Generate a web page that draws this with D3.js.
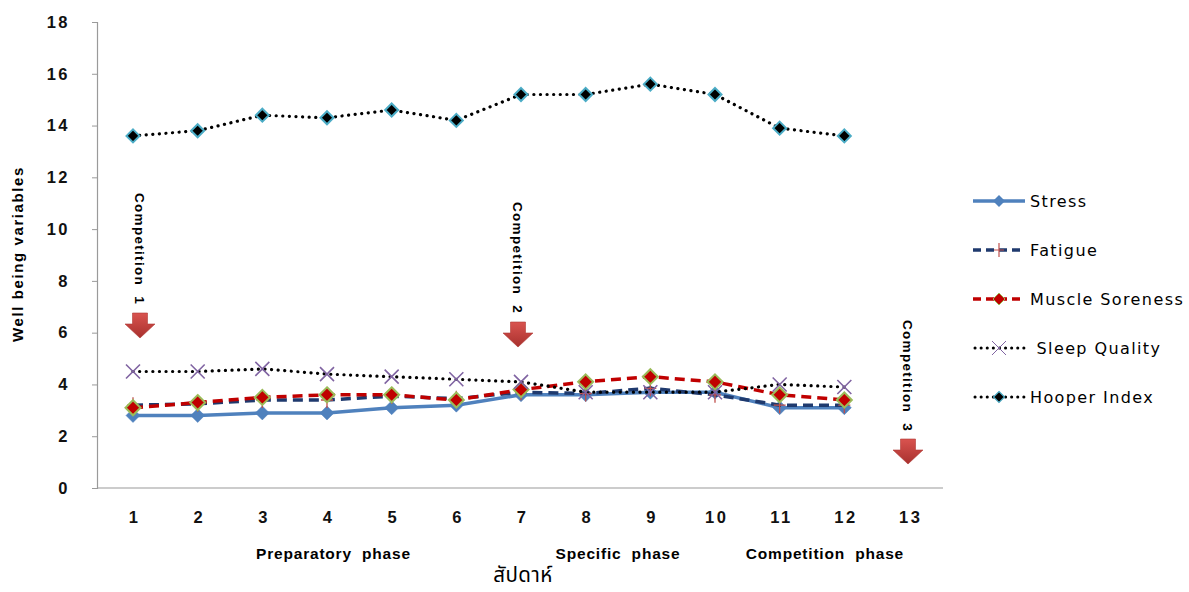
<!DOCTYPE html>
<html><head><meta charset="utf-8">
<script src="https://cdnjs.cloudflare.com/ajax/libs/d3/7.8.5/d3.min.js"></script>
<style>body{margin:0;background:#fff}svg{display:block}</style>
</head><body><svg id="c" width="1189" height="592"></svg>
<script>
const weeks = [1,2,3,4,5,6,7,8,9,10,11,12,13];
const yTicks = [0,2,4,6,8,10,12,14,16,18];
const stress = [2.8,2.8,2.9,2.9,3.1,3.2,3.6,3.6,3.7,3.7,3.1,3.1];
const fatigue = [3.2,3.25,3.4,3.4,3.55,3.45,3.7,3.65,3.85,3.6,3.2,3.2];
const soreness = [3.1,3.3,3.5,3.6,3.6,3.4,3.8,4.1,4.3,4.1,3.6,3.4];
const sleep = [4.5,4.5,4.6,4.4,4.3,4.2,4.1,3.7,3.7,3.7,4.0,3.9];
const hooper = [13.6,13.8,14.4,14.3,14.6,14.2,15.2,15.2,15.6,15.2,13.9,13.6];
const seriesNames = ["Stress","Fatigue","Muscle Soreness"," Sleep Quality","Hooper Index"];
const phases = [{label:"Preparatory  phase", week:4.1},{label:"Specific  phase", week:8.5},{label:"Competition  phase", week:11.7}];
const competitions = [{label:"Competition  1", week:1},{label:"Competition  2", week:7},{label:"Competition  3", week:13}];

const svg = d3.select("#c");
const x = d3.scalePoint().domain(weeks).range([133,909]);
const y = d3.scaleLinear().domain([0,18]).range([488,22]);
const axisColor = "#9a9a9a";

// axes
svg.append("line").attr("x1",97).attr("x2",943).attr("y1",y(0)).attr("y2",y(0)).attr("stroke",axisColor).attr("stroke-width",1.2);
const yAxis = svg.append("g").attr("transform","translate(97,0)")
  .call(d3.axisLeft(y).tickValues(yTicks).tickSize(5).tickPadding(22).tickFormat(d3.format("d")));
yAxis.select(".domain").attr("stroke",axisColor).attr("stroke-width",1.2);
yAxis.selectAll(".tick line").attr("stroke",axisColor);
yAxis.selectAll("text").attr("font-family","Liberation Sans").attr("font-weight","bold").attr("font-size",16.5).attr("letter-spacing","2.5px").attr("fill","#111");

const xAxis = svg.append("g").attr("transform",`translate(0,${y(0)})`)
  .call(d3.axisBottom(x).tickSize(0).tickPadding(23));
xAxis.select(".domain").remove();
xAxis.selectAll("text").attr("font-family","Liberation Sans").attr("font-weight","bold").attr("font-size",16.5).attr("letter-spacing","2.5px").attr("dx","1.2").attr("fill","#111");

// axis titles
svg.append("text").attr("transform","translate(23,254) rotate(-90)").attr("text-anchor","middle")
  .attr("font-family","Liberation Sans").attr("font-weight","bold").attr("font-size",15).attr("letter-spacing","1.6px").text("Well being variables");
const xs = d3.scaleLinear().domain([1,13]).range([x(1),x(13)]);
phases.forEach(p=>{
  svg.append("text").attr("x",xs(p.week)).attr("y",559).attr("text-anchor","middle")
    .attr("font-family","Liberation Sans").attr("font-weight","bold").attr("font-size",15.5).attr("letter-spacing","0.8px")
    .style("white-space","pre").text(p.label);
});
svg.append("text").attr("x",523).attr("y",582).attr("text-anchor","middle")
  .attr("font-family","'Noto Sans Thai','Noto Sans','DejaVu Sans',sans-serif").attr("font-size",20.5).attr("letter-spacing","0.5px").text("สัปดาห์");

// line helpers
const line = d3.line().x((d,i)=>x(weeks[i])).y(d=>y(d));
function diamond(g, data, size, fill, stroke, sw){
  g.selectAll(null).data(data).enter().append("path")
    .attr("d",`M0,${-size}L${size},0L0,${size}L${-size},0Z`)
    .attr("transform",(d,i)=>`translate(${x(weeks[i])},${y(d)})`)
    .attr("fill",fill).attr("stroke",stroke).attr("stroke-width",sw);
}
const dotted = {"stroke-dasharray":"0.1 6.5","stroke-linecap":"round","stroke-width":3.2};

// Stress
let g = svg.append("g");
g.append("path").datum(stress).attr("d",line).attr("fill","none").attr("stroke","#4F81BD").attr("stroke-width",3.5);
diamond(g, stress, 7, "#4F81BD", "#4F81BD", 0.5);
// Fatigue
g = svg.append("g");
g.append("path").datum(fatigue).attr("d",line).attr("fill","none").attr("stroke","#1F3A6E").attr("stroke-width",3.5).attr("stroke-dasharray","10 6");
g.selectAll(null).data(fatigue).enter().append("path")
  .attr("d","M-6,0H6M0,-8V8").attr("transform",(d,i)=>`translate(${x(weeks[i])},${y(d)})`)
  .attr("stroke","#C0504D").attr("stroke-width",1.3);
// Muscle soreness
g = svg.append("g");
g.append("path").datum(soreness).attr("d",line).attr("fill","none").attr("stroke","#C00000").attr("stroke-width",3.5).attr("stroke-dasharray","10 6");
diamond(g, soreness, 7.5, "#C00000", "#9BBB59", 2);
// Sleep
g = svg.append("g");
g.append("path").datum(sleep).attr("d",line).attr("fill","none").attr("stroke","#000")
  .attr("stroke-dasharray",dotted["stroke-dasharray"]).attr("stroke-linecap","round").attr("stroke-width",dotted["stroke-width"]);
g.selectAll(null).data(sleep).enter().append("path")
  .attr("d","M-7,-7L7,7M-7,7L7,-7").attr("transform",(d,i)=>`translate(${x(weeks[i])},${y(d)})`)
  .attr("stroke","#8064A2").attr("stroke-width",1.6);
// Hooper
g = svg.append("g");
g.append("path").datum(hooper).attr("d",line).attr("fill","none").attr("stroke","#000")
  .attr("stroke-dasharray",dotted["stroke-dasharray"]).attr("stroke-linecap","round").attr("stroke-width",dotted["stroke-width"]);
diamond(g, hooper, 6.5, "#000", "#4BACC6", 2);

// competitions
const defs = svg.append("defs");
const grad = defs.append("linearGradient").attr("id","ag").attr("x1",0).attr("x2",0).attr("y1",0).attr("y2",1);
grad.append("stop").attr("offset","0%").attr("stop-color","#D9534F");
grad.append("stop").attr("offset","100%").attr("stop-color","#A8312E");
const compPos = [{dx:7, ty:193, ay:313},{dx:-3, ty:202, ay:322},{dx:-1, ty:320, ay:439}];
competitions.forEach((c,i)=>{
  const p = compPos[i];
  const cx = x(c.week) + p.dx;
  svg.append("text").attr("transform",`translate(${cx-5},${p.ty}) rotate(90)`)
    .attr("font-family","Liberation Sans").attr("font-weight","bold").attr("font-size",13.5).attr("letter-spacing","1.3px")
    .style("white-space","pre").text(c.label);
  svg.append("path").attr("transform",`translate(${cx},${p.ay})`)
    .attr("d","M-7.5,0H7.5V11H15L0,25L-15,11H-7.5Z").attr("fill","url(#ag)").attr("stroke","#B03A36").attr("stroke-width",0.6);
});

// legend
const lg = svg.append("g").attr("transform","translate(973,0)");
const legY = [201,250,299,348,397];
function legText(i){ lg.append("text").attr("x",57).attr("y",legY[i]+6).attr("font-family","DejaVu Sans").attr("font-size",16).attr("letter-spacing","1.4px").style("white-space","pre").text(seriesNames[i]); }
// stress
lg.append("line").attr("x1",0).attr("x2",52).attr("y1",legY[0]).attr("y2",legY[0]).attr("stroke","#4F81BD").attr("stroke-width",3.5);
lg.append("path").attr("d","M0,-6L6,0L0,6L-6,0Z").attr("transform",`translate(26,${legY[0]})`).attr("fill","#4F81BD");
legText(0);
// fatigue
lg.append("line").attr("x1",0).attr("x2",52).attr("y1",legY[1]).attr("y2",legY[1]).attr("stroke","#1F3A6E").attr("stroke-width",3.5).attr("stroke-dasharray","8 5");
lg.append("path").attr("d","M-5,0H5M0,-7V7").attr("transform",`translate(26,${legY[1]})`).attr("stroke","#C0504D").attr("stroke-width",1.2);
legText(1);
// soreness
lg.append("line").attr("x1",0).attr("x2",52).attr("y1",legY[2]).attr("y2",legY[2]).attr("stroke","#C00000").attr("stroke-width",3.5).attr("stroke-dasharray","8 5");
lg.append("path").attr("d","M0,-6L6,0L0,6L-6,0Z").attr("transform",`translate(26,${legY[2]})`).attr("fill","#C00000").attr("stroke","#9BBB59").attr("stroke-width",1);
legText(2);
// sleep
lg.append("line").attr("x1",2).attr("x2",52).attr("y1",legY[3]).attr("y2",legY[3]).attr("stroke","#000").attr("stroke-width",3).attr("stroke-dasharray","0.1 6").attr("stroke-linecap","round");
lg.append("path").attr("d","M-7,-7L7,7M-7,7L7,-7").attr("transform",`translate(26,${legY[3]})`).attr("stroke","#8064A2").attr("stroke-width",1);
legText(3);
// hooper
lg.append("line").attr("x1",2).attr("x2",52).attr("y1",legY[4]).attr("y2",legY[4]).attr("stroke","#000").attr("stroke-width",3).attr("stroke-dasharray","0.1 6").attr("stroke-linecap","round");
lg.append("path").attr("d","M0,-5.5L5.5,0L0,5.5L-5.5,0Z").attr("transform",`translate(26,${legY[4]})`).attr("fill","#000").attr("stroke","#4BACC6").attr("stroke-width",1.2);
legText(4);
</script></body></html>
